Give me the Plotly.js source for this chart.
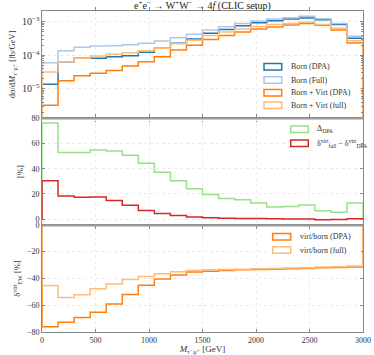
<!DOCTYPE html>
<html><head><meta charset="utf-8">
<script src="https://cdn.plot.ly/plotly-3.0.1.min.js"></script>
<style>html,body{margin:0;padding:0;background:#fff}#chart{width:374px;height:355px}</style>
</head><body><div id="chart"></div>
<script>
// ---- data ----
const binEdges = [0,150,300,450,600,750,900,1050,1200,1350,1500,1650,1800,1950,2100,2250,2400,2550,2700,2850,3000];
const bornDPA  = [1.35e-5,6.4e-5,8.1e-5,8.1e-5,9.0e-5,9.7e-5,1.22e-4,1.61e-4,2.26e-4,3.05e-4,4.5e-4,5.9e-4,7.6e-4,9.3e-4,1.07e-3,1.2e-3,1.29e-3,1.14e-3,8.3e-4,3.22e-4];
const bornFull = [5.97e-5,1.36e-4,1.72e-4,1.88e-4,1.92e-4,2.06e-4,2.26e-4,2.65e-4,3.33e-4,4.2e-4,5.65e-4,7.1e-4,8.9e-4,1.05e-3,1.2e-3,1.32e-3,1.45e-3,1.22e-3,8.8e-4,3.7e-4];
const bvDPA    = [3.19e-6,1.73e-5,2.45e-5,2.88e-5,3.47e-5,4.77e-5,6.4e-5,9.0e-5,1.43e-4,2.0e-4,2.96e-4,3.9e-4,4.9e-4,6.1e-4,7.0e-4,8.0e-4,8.8e-4,7.8e-4,5.7e-4,2.3e-4];
const bvFull   = [3.15e-5,6.4e-5,8.1e-5,9.46e-5,1.06e-4,1.19e-4,1.36e-4,1.61e-4,2.2e-4,2.78e-4,3.9e-4,4.9e-4,6.1e-4,7.2e-4,8.2e-4,8.9e-4,9.6e-4,8.3e-4,6.4e-4,2.7e-4];
const deltaDPA = [76.3,52.8,52.8,54.9,54.1,50.7,44.3,37.3,30.5,24.2,19.5,16.5,15.5,12.8,9.6,10.1,11.2,6.7,5.6,12.8];
const diffVirt = [30.5,18.3,17.3,17.5,14.9,11.1,6.9,4.5,3.0,1.8,1.1,0.8,0.5,0.5,0.3,0.2,0.2,-0.5,-0.3,0.3];
const virtDPA  = [-76.2,-72.9,-69.4,-65.4,-59.3,-52.0,-45.2,-40.4,-37.4,-35.3,-34.6,-34.1,-33.6,-33.3,-33.1,-32.8,-32.6,-32.0,-31.8,-31.5];
const virtFull = [-45.4,-54.3,-52.2,-47.7,-44.2,-40.9,-38.6,-36.6,-35.1,-34.1,-33.6,-33.3,-33.1,-32.8,-32.6,-32.3,-32.0,-31.5,-31.3,-30.8];

const topLabels = ["Born (DPA)","Born (Full)","Born + Virt (DPA)","Born + Virt (full)"];
const midLabels = ["Δ<sub>DPA</sub>","δ<sup>virt</sup><sub>full</sub> − δ<sup>virt</sup><sub>DPA</sub>"];
const botLabels = ["virt/born (DPA)","virt/born (full)"];

const C = {bd:'#1f77b4', bf:'#aec7e8', vd:'#ff7f0e', vf:'#ffbb78', g:'#98df8a', r:'#d62728'};
const FONT = "Liberation Serif, DejaVu Serif, serif";

// ---- geometry ----
const W=374,H=355,L=42,R=11,T=11,B=23;
const pw=W-L-R, ph=H-T-B;
const px=(p)=>(p-L)/pw, py=(p)=>(H-B-p)/ph;

function step(vals, base){
  const x=[binEdges[0]], y=[base];
  for(let i=0;i<vals.length;i++){x.push(binEdges[i]); y.push(vals[i]);}
  x.push(binEdges[vals.length]); y.push(vals[vals.length-1]);
  x.push(binEdges[vals.length]); y.push(base);
  return {x,y};
}
function tr(vals, base, color, yax){
  const s=step(vals, base);
  return {x:s.x,y:s.y,type:'scatter',mode:'lines',line:{shape:'hv',color:color,width:1.5},
          xaxis:'x',yaxis:yax,showlegend:false,hoverinfo:'skip'};
}
const data=[
  tr(bornDPA,1e-9,C.bd,'y'), tr(bornFull,1e-9,C.bf,'y'), tr(bvDPA,1e-9,C.vd,'y'), tr(bvFull,1e-9,C.vf,'y'),
  tr(deltaDPA,0,C.g,'y2'), tr(diffVirt,0,C.r,'y2'),
  tr(virtDPA,0,C.vd,'y3'), tr(virtFull,0,C.vf,'y3')
];

const shapes=[], annotations=[];
function legend(box, sx0, sx1, rows, tx, labels, colors){
  shapes.push({type:'rect',xref:'paper',yref:'paper',x0:px(box[0]),x1:px(box[1]),y0:py(box[2]),y1:py(box[3]),
    fillcolor:'rgba(255,255,255,0.85)',line:{width:0},layer:'above'});
  labels.forEach((lab,i)=>{
    shapes.push({type:'rect',xref:'paper',yref:'paper',x0:px(sx0),x1:px(sx1),y0:py(rows[i]-3.3),y1:py(rows[i]+3.3),
      fillcolor:'rgba(0,0,0,0)',line:{color:colors[i],width:1.5},layer:'above'});
    annotations.push({xref:'paper',yref:'paper',x:px(tx),y:py(rows[i]),xanchor:'left',yanchor:'middle',
      text:lab,showarrow:false,font:{family:FONT,size:8,color:'#333'}});
  });
}
legend([260,361,59,112],264,281.7,[66.7,80,92.7,105.3],289.3,topLabels,[C.bd,C.bf,C.vd,C.vf]);
legend([286,361,121,151],290.7,308.3,[129.3,143.3],315,midLabels,[C.g,C.r]);
legend([268,361,229,257],272.7,290.7,[236.7,250],297.7,botLabels,[C.vd,C.vf]);

// separators
[118.5,225.5].forEach(y=>shapes.push({type:'line',xref:'paper',yref:'paper',x0:0,x1:1,y0:py(y),y1:py(y),
  line:{color:'#999',width:2},layer:'above'}));

const axCommon = {showline:true,linecolor:'#888',linewidth:1,mirror:'allticks',ticks:'inside',ticklen:3,
  tickcolor:'#888',gridcolor:'#ebebeb',griddash:'dot',zeroline:false,
  tickfont:{family:FONT,size:8,color:'#333'}};

const layout={
  width:W,height:H,margin:{l:L,r:R,t:T,b:B},paper_bgcolor:'#fff',plot_bgcolor:'#fff',
  font:{family:FONT,color:'#333'},
  title:{text:'e<sup>+</sup>e<sup>−</sup> → W<sup>+</sup>W<sup>−</sup> → 4<i>f</i> (CLIC setup)',
    font:{family:FONT,size:10,color:'#222'},xref:'paper',x:0.5,xanchor:'center',yref:'container',y:1-5.5/H,yanchor:'middle'},
  xaxis:Object.assign({},axCommon,{range:[0,3000],anchor:'y3',dtick:500,
    title:{text:'<i>M</i><sub>τ⁻μ⁺</sub> [GeV]',font:{family:FONT,size:9,color:'#333'},standoff:2}}),
  yaxis:Object.assign({},axCommon,{domain:[2/3,1],type:'log',range:[-5.875,-2.68],dtick:1,exponentformat:'power',
    minor:{ticks:'inside',ticklen:2,tickcolor:'#888',showgrid:false},
    title:{text:'dσ/d<i>M</i><sub>τ⁻μ⁺</sub> [fb/GeV]',font:{family:FONT,size:8.5,color:'#333'},standoff:4}}),
  yaxis2:Object.assign({},axCommon,{domain:[1/3,2/3],range:[-4.6,80.2],dtick:20,
    title:{text:'[%]',font:{family:FONT,size:8.5,color:'#333'},standoff:6}}),
  yaxis3:Object.assign({},axCommon,{domain:[0,1/3],range:[-80.2,0],dtick:20,
    title:{text:'δ<sup>virt</sup><sub>EW</sub> [%]',font:{family:FONT,size:8.5,color:'#333'},standoff:4}}),
  shapes:shapes,annotations:annotations
};
Plotly.newPlot('chart',data,layout,{staticPlot:true,displayModeBar:false});
</script></body></html>
